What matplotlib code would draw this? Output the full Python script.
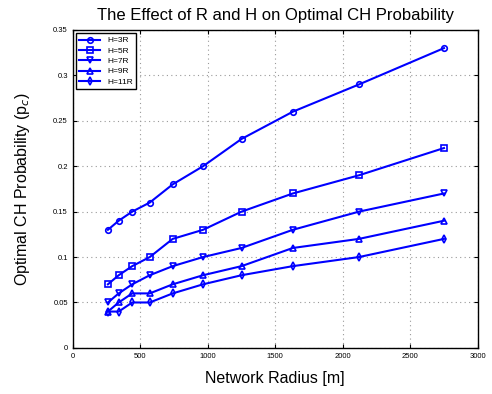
import matplotlib
matplotlib.use('Agg')
import matplotlib.pyplot as plt
import numpy as np

# network radius [m]
radius = np.array([260, 340, 440, 570, 740, 965, 1250, 1630, 2120, 2750])
p_3r = [0.13, 0.14, 0.15, 0.16, 0.18, 0.20, 0.23, 0.26, 0.29, 0.33]
p_5r = [0.07, 0.08, 0.09, 0.10, 0.12, 0.13, 0.15, 0.17, 0.19, 0.22]
p_7r = [0.05, 0.06, 0.07, 0.08, 0.09, 0.10, 0.11, 0.13, 0.15, 0.17]
p_9r = [0.04, 0.05, 0.06, 0.06, 0.07, 0.08, 0.09, 0.11, 0.12, 0.14]
p_11r = [0.04, 0.04, 0.05, 0.05, 0.06, 0.07, 0.08, 0.09, 0.10, 0.12]
labels = ["H=3R", "H=5R", "H=7R", "H=9R", "H=11R"]
markers = ['o', 's', 'v', '^', 'd']

plt.rcParams['font.family'] = ['Liberation Sans', 'DejaVu Sans']

fig = plt.figure(figsize=(4.92, 3.94), dpi=100)
# axes box: x 73..478 px, y 30..348 px
ax = fig.add_axes([0.148, 0.117, 0.823, 0.807])

for y, lab, m in zip([p_3r, p_5r, p_7r, p_9r, p_11r], labels, markers):
    ax.plot(radius, y, color='#0000FF', lw=1.5, marker=m, ms=4,
            mfc='none', mew=1.2, label=lab)

ax.set_xlim(0, 3000)
ax.set_ylim(0, 0.35)
ax.set_xticks(np.arange(0, 3001, 500))
ax.set_yticks(np.arange(0, 0.351, 0.05))
ax.set_yticklabels(['0', '0.05', '0.1', '0.15', '0.2', '0.25', '0.3', '0.35'])
ax.tick_params(direction='in', top=True, right=True, labelsize=5.5, length=3)
ax.grid(True, ls=(0, (1, 3)), color='#999999', lw=0.8)
for s in ax.spines.values():
    s.set_linewidth(1.0)

ax.set_title("The Effect of R and H on Optimal CH Probability", fontsize=12, pad=7)
ax.set_xlabel("Network Radius [m]", fontsize=11.5, labelpad=8)
ax.set_ylabel("Optimal CH Probability (p$_c$)", fontsize=11.5, labelpad=15)

leg = ax.legend(loc='upper left', fontsize=6, fancybox=False, edgecolor='black',
                framealpha=1, borderaxespad=0.4, handlelength=2.5, labelspacing=0.3)
leg.get_frame().set_linewidth(1.0)

plt.savefig('out.png', dpi=100)
